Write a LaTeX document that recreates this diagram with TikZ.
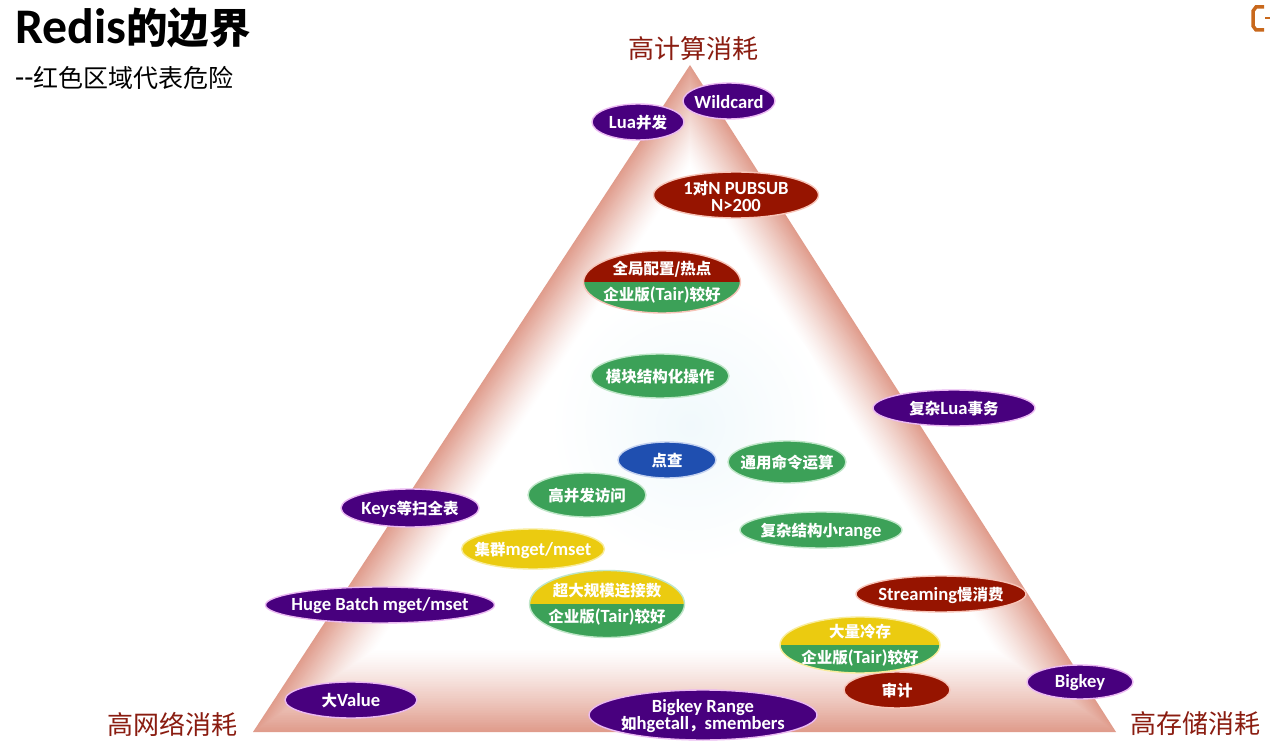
\documentclass[tikz,border=0pt]{standalone}
\usepackage{fontspec}
\setmainfont[Scale=1.2]{Carlito}
\newfontfamily\cjkfont{Noto Sans CJK SC}
\newcommand{\cn}[1]{{\cjkfont #1}}
\usepackage{xcolor}
\usepackage{tikz}
\usetikzlibrary{shapes.geometric, calc}

\definecolor{edgered}{HTML}{E09C8C}
\definecolor{innertint}{HTML}{F1F9FC}
\definecolor{headred}{HTML}{8A1C10}
\definecolor{pillpurple}{HTML}{48007E}
\definecolor{pillred}{HTML}{961400}
\definecolor{pillgreen}{HTML}{3CA158}
\definecolor{pillyellow}{HTML}{EBCB10}
\definecolor{pillblue}{HTML}{1F4FB0}
\definecolor{logoorange}{HTML}{C8681C}
\definecolor{purplehalo}{HTML}{EBB9F2}
\definecolor{redhalo}{HTML}{F7C4B8}
\definecolor{greenhalo}{HTML}{BFE6C8}
\definecolor{yellowhalo}{HTML}{F8EC9C}
\definecolor{bluehalo}{HTML}{C4D2F0}

\begin{document}
\begin{tikzpicture}[
    x=1pt, y=-1pt,
    pill/.style={ellipse, inner sep=0pt, line width=1.4pt},
    every label/.style={text=white, align=center, inner sep=0pt, yshift=-1pt,
      font=\bfseries\fontsize{15.5}{17}\selectfont},
    purplepill/.style={pill, fill=pillpurple, draw=purplehalo},
    redpill/.style={pill, fill=pillred, draw=redhalo},
    greenpill/.style={pill, fill=pillgreen, draw=greenhalo},
    yellowpill/.style={pill, fill=pillyellow, draw=yellowhalo},
    bluepill/.style={pill, fill=pillblue, draw=bluehalo},
    splitpill/.style n args={3}{pill, draw=#3, path picture={
        \fill[#1] (path picture bounding box.north west) rectangle (path picture bounding box.east);
        \fill[#2] (path picture bounding box.west) rectangle (path picture bounding box.south east);
      }},
    upper/.style={yshift=14pt},
    lower/.style={yshift=-12pt},
    head/.style={text=headred, inner sep=0pt, font=\fontsize{26}{28}\selectfont}
  ]
  \useasboundingbox (0,0) rectangle (1270,754);
  \fill[white] (0,0) rectangle (1270,754);

  % Triangle corners, outer and where the fade ends
  \coordinate (apex) at (690,65);
  \coordinate (left) at (253,732);
  \coordinate (right) at (1116,732);
  \coordinate (apexin) at (690,165);
  \coordinate (leftin) at (375,650);
  \coordinate (rightin) at (995,650);

  % Triangle fading from the edges inwards
  \foreach \i in {0,...,48} {
    \pgfmathsetmacro{\t}{\i/48}
    \pgfmathsetmacro{\c}{100*(1-\t)^1.25}
    \fill[edgered!\c!white] ($(apex)!\t!(apexin)$) -- ($(left)!\t!(leftin)$) -- ($(right)!\t!(rightin)$) -- cycle;
  }
  \shade[inner color=innertint, outer color=white] (690,425) circle (140);

  % Title
  \node[anchor=west, inner sep=0pt, font=\bfseries\fontsize{41.5}{44}\selectfont] (title) at (15,28) {Redis\cn{的边界}};
  \node[anchor=west, inner sep=0pt, font=\fontsize{25}{27}\selectfont] (subtitle) at (15,78) {{-}{-}\cn{红色区域代表危险}};

  % Corner labels
  \node[head] (headtop) at (693,49) {\cn{高计算消耗}};
  \node[head] (headleft) at (172,724) {\cn{高网络消耗}};
  \node[head] (headright) at (1195,724) {\cn{高存储消耗}};

  % Purple
  \node[purplepill, minimum width=92pt, minimum height=36pt, label={center:Wildcard}] (wildcard) at (729,101) {};
  \node[purplepill, minimum width=92pt, minimum height=36pt, label={center:Lua\cn{并发}}] (luaconc) at (638,122) {};
  \node[purplepill, minimum width=162pt, minimum height=36pt, label={center:\cn{复杂}Lua\cn{事务}}] (lualong) at (954,408) {};
  \node[purplepill, minimum width=138pt, minimum height=38pt, label={center:Keys\cn{等扫全表}}] (keys) at (410,508) {};
  \node[purplepill, minimum width=229pt, minimum height=36pt, label={center:Huge Batch mget/mset}] (hugebatch) at (380,605) {};
  \node[purplepill, minimum width=132pt, minimum height=36pt, label={center:\cn{大}Value}] (bigvalue) at (351,700) {};
  \node[purplepill, minimum width=106pt, minimum height=34pt, label={center:Bigkey}] (bigkey) at (1080,682) {};
  \node[purplepill, minimum width=228pt, minimum height=50pt, label={center:{Bigkey Range\\\cn{如}hgetall\cn{，}smembers}}] (bigrange) at (703,715) {};

  % Red
  \node[redpill, minimum width=165pt, minimum height=46pt, label={center:{1\cn{对}N PUBSUB\\N>200}}] (pubsub) at (736,195) {};
  \node[redpill, minimum width=170pt, minimum height=36pt, label={center:Streaming\cn{慢消费}}] (streaming) at (941,594) {};
  \node[redpill, minimum width=106pt, minimum height=36pt, label={center:\cn{审计}}] (audit) at (897,690) {};

  % Green, blue and yellow
  \node[greenpill, minimum width=138pt, minimum height=44pt, label={center:\cn{模块结构化操作}}] (module) at (660,376) {};
  \node[bluepill, minimum width=98pt, minimum height=36pt, label={center:\cn{点查}}] (point) at (667,460) {};
  \node[greenpill, minimum width=118pt, minimum height=42pt, label={center:\cn{通用命令运算}}] (common) at (787,462) {};
  \node[greenpill, minimum width=118pt, minimum height=44pt, label={center:\cn{高并发访问}}] (highconc) at (587,495) {};
  \node[greenpill, minimum width=162pt, minimum height=36pt, label={center:\cn{复杂结构小}range}] (smallrange) at (821,530) {};
  \node[yellowpill, minimum width=143pt, minimum height=40pt, label={center:\cn{集群}mget/mset}] (cluster) at (533,549) {};

  % Two-coloured
  \node[splitpill={pillred}{pillgreen}{redhalo}, minimum width=157pt, minimum height=62pt,
    label={[upper]center:\cn{全局配置/热点}}, label={[lower]center:\cn{企业版}(Tair)\cn{较好}}] (hotspot) at (662,282) {};
  \node[splitpill={pillyellow}{pillgreen}{greenhalo}, minimum width=155pt, minimum height=67pt,
    label={[upper]center:\cn{超大规模连接数}}, label={[lower]center:\cn{企业版}(Tair)\cn{较好}}] (conns) at (607,604) {};
  \node[splitpill={pillyellow}{pillgreen}{yellowhalo}, minimum width=160pt, minimum height=56pt,
    label={[upper]center:\cn{大量冷存}}, label={[lower]center:\cn{企业版}(Tair)\cn{较好}}] (coldstore) at (860,645) {};

  % Logo at the corner
  \draw[logoorange, line width=3.5pt] (1264,7) -- (1256,7) -- (1253,11) -- (1253,26) -- (1256,30) -- (1264,30);
  \draw[logoorange, line width=2pt] (1265,18) -- (1270,18);
\end{tikzpicture}
\end{document}
